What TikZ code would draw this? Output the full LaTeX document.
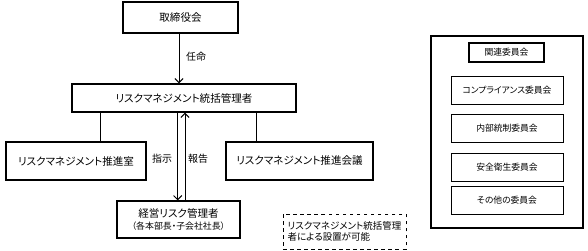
\documentclass[tikz,border=0pt]{standalone}
\usepackage{fontspec}
\setmainfont{Noto Sans CJK JP}[RawFeature=+palt]
\usetikzlibrary{arrows.meta, positioning}
\tikzstyle{block} = [rectangle, draw=black, line width=1.2pt, text centered, font=\fontsize{9}{11}\selectfont]
\tikzstyle{unit} = [rectangle, draw=black, line width=0.7pt, minimum width=3.36cm, minimum height=0.84cm, font=\fontsize{7.5}{9}\selectfont]
\tikzstyle{arrow} = [line width=0.8pt,->,>={Straight Barb[length=3.5pt,width=7pt]}]
\tikzstyle{link} = [line width=0.8pt]
\tikzstyle{tag} = [font=\fontsize{8.5}{10}\selectfont]

\begin{document}
\begin{tikzpicture}[x=0.03cm, y=-0.03cm]
    \useasboundingbox (0,0) rectangle (588,250);
    \node (board) [block, minimum width=3.45cm, minimum height=0.93cm] at (180.5,17.5) {取締役会};
    \node (mgr) [block, minimum width=6.72cm, minimum height=0.84cm] at (184,98) {リスクマネジメント統括管理者};
    \node (office) [block, minimum width=4.2cm, minimum height=1.14cm] at (76,161) {リスクマネジメント推進室};
    \node (council) [block, minimum width=4.41cm, minimum height=1.14cm] at (299.5,161) {リスクマネジメント推進会議};
    \node (exec) [block, minimum width=3.69cm, minimum height=1.11cm, align=center] at (178.5,219.5)
        {経営リスク管理者\\[-1.5pt]{\fontsize{7.6}{8}\selectfont （各本部長・子会社社長）}};
    \node (note) [rectangle, draw=black, dashed, line width=0.7pt, minimum width=3.69cm, minimum height=1.05cm,
        align=left, font=\fontsize{8.1}{9}\selectfont] at (344.5,231.5)
        {リスクマネジメント統括管理\\者による設置が可能};

    \node (panel) [rectangle, draw=black, line width=1.2pt, minimum width=4.56cm, minimum height=5.76cm] at (507,132) {};
    \node (title) [rectangle, draw=black, line width=1.2pt, minimum width=2.25cm, minimum height=0.57cm,
        font=\fontsize{7.5}{9}\selectfont] at (506.5,52.5) {関連委員会};
    \node (comp) [unit] at (507,90) {コンプライアンス委員会};
    \node (audit) [unit] at (507,128.5) {内部統制委員会};
    \node (safety) [unit] at (507,167) {安全衛生委員会};
    \node (other) [unit] at (507,200) {その他の委員会};

    \draw [arrow] ([xshift=-0.045cm]board.south) -- ([xshift=-0.045cm]board.south |- mgr.north);
    \node (appoint) [tag, anchor=west] at (182,57) {任命};
    \draw [link] ([xshift=0.72cm]office.north) -- ([xshift=0.72cm]office.north |- mgr.south);
    \draw [link] ([xshift=-1.305cm]council.north) -- ([xshift=-1.305cm]council.north |- mgr.south);
    \draw [arrow] ([xshift=-0.024cm]exec.north |- mgr.south) -- ([xshift=-0.024cm]exec.north);
    \draw [arrow] ([xshift=0.03cm]mgr.south |- exec.north) -- ([xshift=0.03cm]mgr.south);
    \node (order) [tag] at (162,159) {指示};
    \node (report) [tag] at (198,159) {報告};
\end{tikzpicture}
\end{document}
